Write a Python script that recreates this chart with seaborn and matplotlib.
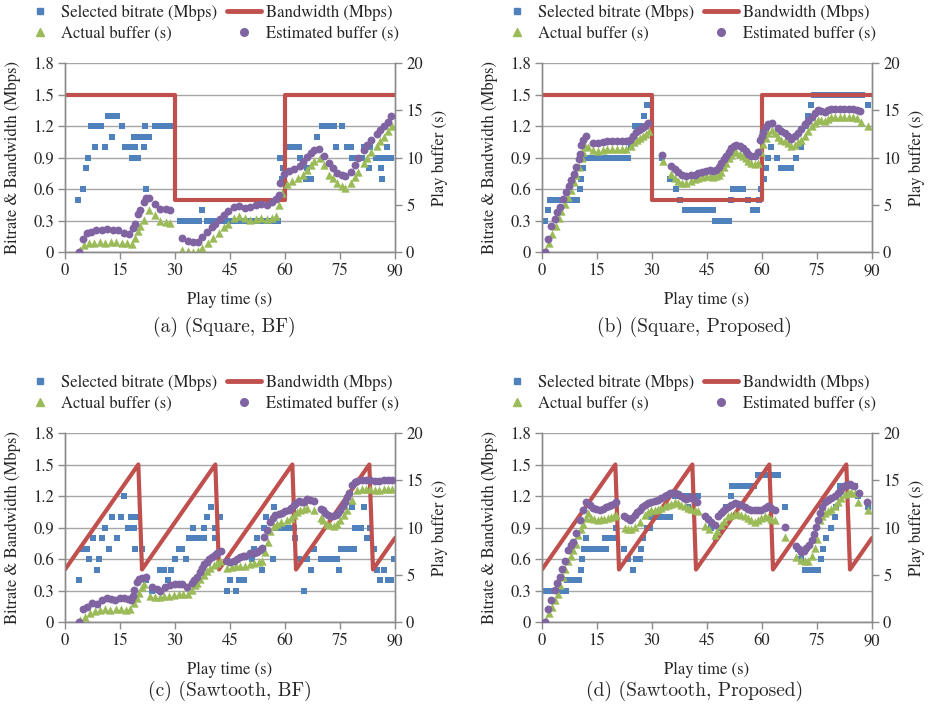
import matplotlib
matplotlib.use("Agg")
import matplotlib.pyplot as plt
from matplotlib.lines import Line2D
import seaborn as sns
import pandas as pd

# ---------------- data ----------------
x_ticks = [0, 15, 30, 45, 60, 75, 90]
left_ticks = [0, 0.3, 0.6, 0.9, 1.2, 1.5, 1.8]
left_tick_labels = ["0", "0.3", "0.6", "0.9", "1.2", "1.5", "1.8"]
right_ticks = [0, 5, 10, 15, 20]

labels = ["Selected bitrate (Mbps)", "Actual buffer (s)", "Bandwidth (Mbps)", "Estimated buffer (s)"]
captions = ["(a) (Square, BF)", "(b) (Square, Proposed)", "(c) (Sawtooth, BF)", "(d) (Sawtooth, Proposed)"]

square_bw_t = [0, 30, 30, 60, 60, 90]
square_bw_v = [1.5, 1.5, 0.5, 0.5, 1.5, 1.5]
saw_bw_t = [0, 20, 21, 41, 42, 62, 63, 83, 84, 90]
saw_bw_v = [0.5, 1.5, 0.5, 1.5, 0.5, 1.5, 0.5, 1.5, 0.5, 0.8]

# panel (a) Square, BF
a_rate_t = [3.6, 4.8, 5.7, 6.4, 7.0, 8.2, 8.4, 9.8, 10.9, 11.7, 12.9, 13.0, 14.3, 15.5, 16.4, 17.8, 18.2, 18.7,
            19.1, 19.8, 20.1, 21.5, 21.6, 21.9, 22.1, 22.8, 24.5, 25.9, 27.3, 28.7,
            31.4, 32.7, 34.0, 35.3, 36.6, 37.3, 38.6, 39.9, 41.2, 42.5, 43.8, 45.1, 46.4, 47.7, 49.0, 50.3, 51.6,
            52.9, 54.2, 55.5, 56.8, 58.1, 58.7, 59.2, 59.5,
            60.5, 61.7, 62.9, 63.8, 64.2, 65.6, 66.0, 67.0, 68.8, 70.0, 71.1, 72.2, 73.3, 74.0, 75.6, 76.8, 78.0,
            78.3, 79.6, 81.0, 81.5, 82.9, 83.3, 84.7, 85.9, 86.2, 86.5, 87.6, 87.9, 89.0]
a_rate_v = [0.5, 0.6, 0.8, 0.9, 1.2, 1.0, 1.2, 1.2, 1.0, 1.3, 1.1, 1.3, 1.3, 1.2, 1.0, 1.0, 0.9, 1.1,
            1.0, 0.9, 1.1, 1.1, 1.0, 1.2, 0.6, 1.1, 1.2, 1.2, 1.2, 1.2,
            0.3, 0.3, 0.3, 0.3, 0.3, 0.4, 0.3, 0.3, 0.3, 0.3, 0.3, 0.3, 0.3, 0.3, 0.3, 0.3, 0.3,
            0.3, 0.3, 0.3, 0.3, 0.3, 0.9, 0.7, 0.8,
            1.0, 1.0, 1.0, 1.0, 0.9, 0.7, 0.8, 0.7, 1.1, 1.2, 1.2, 1.2, 1.2, 1.0, 1.2, 1.0, 1.0,
            0.9, 0.9, 0.9, 1.0, 0.8, 1.0, 0.9, 0.9, 0.8, 0.7, 0.9, 1.0, 0.9]
a_est_t = [3.8, 4.8, 6.0, 7.0, 8.5, 10.0, 11.5, 13.0, 14.5, 16.0, 17.5, 18.5, 19.0, 20.0, 20.5, 21.5, 22.0, 23.0,
           24.6, 26.0, 27.5, 28.7,
           32.0, 33.5, 35.0, 36.4, 37.5, 38.7, 40.0, 41.0, 42.3, 43.5, 44.5, 46.0, 47.5, 49.0, 50.5, 52.0, 53.5,
           55.0, 56.5, 57.5, 58.3, 58.7, 59.7, 61.0, 62.4, 64.0, 65.0, 66.0, 67.0, 68.0, 69.2, 70.6, 72.0, 73.0,
           74.2, 75.5, 76.5, 78.0, 79.0, 80.0, 81.5, 82.5, 83.5, 85.0, 86.0, 87.0, 88.0, 89.0]
a_est_v = [0.0, 1.4, 2.0, 2.1, 2.3, 2.3, 2.4, 2.3, 2.3, 2.0, 1.9, 2.5, 3.0, 4.0, 4.4, 5.3, 5.7, 5.7,
           5.1, 4.6, 4.5, 4.4,
           1.5, 1.2, 1.1, 1.1, 1.6, 2.1, 2.6, 3.0, 3.5, 3.9, 4.3, 4.8, 4.9, 4.7, 4.8, 5.0, 5.1,
           5.0, 5.3, 5.6, 6.0, 7.3, 8.3, 8.6, 8.8, 9.1, 9.5, 10.1, 10.5, 10.8, 10.9, 10.2, 9.4, 8.9,
           8.4, 8.2, 8.0, 8.5, 9.2, 9.9, 10.8, 11.3, 11.8, 12.5, 12.9, 13.3, 13.8, 14.4]
a_act_t = [4.1, 5.2, 6.5, 8.0, 9.5, 11.0, 12.5, 14.0, 15.5, 17.0, 18.2, 19.2, 20.0, 20.5, 21.5, 22.8, 24.5, 26.0,
           27.5, 28.7,
           32.0, 33.5, 35.0, 36.4, 37.5, 39.0, 40.5, 42.0, 43.5, 44.5, 46.0, 47.5, 49.0, 50.5, 52.0, 53.5, 55.0,
           56.5, 57.5, 58.3, 59.2, 60.5, 62.0, 63.5, 65.0, 66.0, 67.0, 68.0, 69.5, 70.6, 72.0, 73.0, 74.2, 75.5,
           76.5, 78.0, 79.0, 80.0, 81.5, 82.5, 83.5, 85.0, 86.0, 87.0, 88.0, 89.3]
a_act_v = [0.2, 0.7, 0.9, 1.0, 1.1, 1.0, 1.1, 1.1, 1.0, 0.9, 0.8, 1.5, 2.2, 2.7, 3.4, 4.4, 3.9, 3.3,
           3.2, 3.1,
           0.25, 0.1, 0.05, 0.1, 0.4, 0.9, 1.5, 2.0, 2.6, 3.0, 3.6, 3.8, 3.6, 3.4, 3.5, 3.6, 3.5,
           3.6, 3.8, 5.0, 6.2, 7.2, 7.5, 7.8, 8.2, 8.7, 9.2, 9.6, 9.9, 9.2, 8.2, 7.8, 7.3, 7.0,
           6.8, 7.3, 7.9, 8.5, 9.4, 10.0, 10.6, 11.2, 11.7, 12.2, 12.8, 13.3]

# panel (b) Square, Proposed
b_rate_t = [0.7, 1.6, 2.2, 3.5, 4.8, 6.1, 7.4, 8.7, 9.6, 10.3, 10.6, 11.2, 11.7, 13.0, 14.3, 15.6, 16.9, 18.2,
            19.5, 20.8, 22.1, 23.4, 24.4, 25.3, 26.6, 27.8, 28.7,
            32.8, 35.0, 36.5, 37.7, 39.0, 40.3, 41.6, 42.9, 44.2, 45.5, 46.6, 47.2, 48.5, 49.8, 51.0, 51.6, 52.2,
            53.5, 54.8, 56.2, 57.5, 58.6, 59.3, 59.8, 60.5, 61.2, 61.6, 62.5, 64.2, 65.3, 66.6, 67.9, 69.4,
            70.7, 72.0, 72.5, 73.3, 74.2, 75.5, 76.8, 78.1, 79.4, 80.7, 82.0, 83.3, 84.6, 85.9, 87.2, 89.0]
b_rate_v = [0.3, 0.4, 0.5, 0.5, 0.5, 0.5, 0.5, 0.5, 0.5, 0.6, 0.7, 0.8, 0.9, 0.9, 0.9, 0.9, 0.9, 0.9,
            0.9, 0.9, 0.9, 0.9, 1.0, 1.2, 1.2, 1.3, 1.4,
            0.9, 0.7, 0.6, 0.5, 0.4, 0.4, 0.4, 0.4, 0.4, 0.4, 0.4, 0.3, 0.3, 0.3, 0.3, 0.5, 0.6,
            0.6, 0.6, 0.5, 0.4, 0.4, 0.5, 0.6, 0.7, 0.8, 0.9, 1.0, 0.9, 0.8, 0.8, 0.8, 0.9,
            1.0, 1.2, 1.3, 1.4, 1.5, 1.5, 1.5, 1.5, 1.5, 1.5, 1.5, 1.5, 1.5, 1.5, 1.5, 1.4]
b_est_t = [0.7, 1.6, 2.5, 3.5, 4.2, 4.8, 5.7, 6.6, 7.3, 8.0, 8.7, 9.4, 10.0, 10.3, 10.7, 11.3, 12.1, 13.9, 15.2,
           16.5, 17.8, 19.1, 20.4, 21.7, 23.0, 24.0, 24.8, 25.6, 26.5, 27.4, 28.2, 28.9,
           32.8, 35.1, 36.2, 37.2, 38.3, 39.4, 40.5, 41.6, 42.6, 43.5, 44.6, 45.7, 46.6, 47.5, 48.2, 48.9, 49.6,
           50.3, 51.0, 51.6, 52.3, 53.0, 53.9, 54.8, 55.5, 56.2, 57.1, 58.0, 58.9, 59.4, 59.9, 60.3, 61.0, 61.6,
           62.7, 64.4, 65.3, 66.2, 67.1, 68.0, 68.9, 69.8, 70.7, 71.6, 72.5, 73.5, 74.4, 75.3, 76.2, 77.1, 78.0,
           78.9, 80.0, 81.2, 82.4, 83.6, 84.8, 86.0, 86.6]
b_est_v = [0.0, 1.4, 2.7, 3.5, 4.2, 4.8, 5.6, 6.4, 7.0, 7.6, 8.3, 9.0, 9.8, 10.4, 11.3, 11.9, 12.3, 11.5, 11.5,
           11.6, 11.7, 11.7, 11.7, 11.7, 11.7, 11.9, 12.3, 12.7, 12.9, 13.1, 13.3, 13.6,
           10.3, 9.1, 8.8, 8.5, 8.2, 8.0, 8.1, 8.2, 8.4, 8.5, 8.6, 8.7, 8.6, 8.7, 9.0, 9.4, 9.8,
           10.2, 10.6, 11.0, 11.2, 11.3, 11.2, 11.0, 10.7, 10.4, 10.2, 10.2, 10.6, 11.9, 12.3, 12.7, 13.2, 13.5,
           13.7, 13.1, 12.8, 12.6, 12.3, 12.0, 12.3, 12.6, 13.0, 13.5, 13.9, 14.3, 14.7, 15.0, 14.9, 14.8, 15.0,
           15.1, 15.1, 15.1, 15.1, 15.1, 15.1, 15.0, 14.9]
b_act_t = [1.2, 2.0, 2.8, 3.7, 4.5, 5.3, 6.2, 7.0, 7.8, 8.6, 9.4, 10.2, 10.8, 11.3, 11.8, 12.5, 13.9, 15.2, 16.5,
           17.8, 19.1, 20.4, 21.7, 23.0, 24.2, 25.0, 25.8, 26.7, 27.6, 28.4, 29.2,
           33.0, 35.1, 36.2, 37.2, 38.3, 39.4, 40.5, 41.6, 42.6, 43.5, 44.6, 45.7, 46.6, 47.5, 48.2, 48.9, 49.6,
           50.3, 51.0, 51.6, 52.3, 53.0, 53.9, 54.8, 55.5, 56.2, 57.1, 58.0, 58.9, 59.8, 60.3, 61.0, 61.6, 62.7,
           63.5, 64.4, 65.3, 66.2, 67.1, 68.0, 68.9, 69.8, 70.7, 71.6, 72.5, 73.5, 74.4, 75.3, 76.2, 77.1, 78.0,
           78.9, 80.0, 81.2, 82.4, 83.6, 84.8, 86.0, 87.0, 89.0]
b_act_v = [0.2, 1.0, 1.9, 2.8, 3.6, 4.3, 5.1, 5.8, 6.6, 7.4, 8.2, 9.0, 9.9, 10.6, 11.2, 11.1, 10.8, 10.7, 10.8,
           10.9, 10.9, 10.9, 10.9, 10.9, 11.2, 11.6, 11.9, 12.1, 12.3, 12.5, 12.8,
           9.6, 8.3, 7.8, 7.5, 7.3, 7.3, 7.5, 7.7, 7.8, 7.9, 8.0, 8.0, 7.9, 8.0, 8.2, 8.5, 9.0,
           9.4, 9.9, 10.3, 10.6, 10.6, 10.4, 10.2, 9.9, 9.6, 9.4, 9.3, 9.4, 10.6, 11.4, 12.1, 12.6, 12.9,
           12.6, 12.2, 11.9, 11.7, 11.5, 11.2, 11.3, 11.6, 11.9, 12.3, 12.8, 13.3, 13.7, 14.0, 14.0, 13.9, 14.1,
           14.3, 14.3, 14.3, 14.3, 14.3, 14.3, 14.2, 13.8, 13.3]

# panel (c) Sawtooth, BF
c_rate_t = [3.9, 4.8, 5.9, 6.6, 7.6, 8.7, 9.4, 10.0, 10.9, 12.1, 12.9, 14.1, 15.3, 16.2, 17.3, 17.9, 18.7, 19.1,
            19.6, 21.0, 22.1, 23.7, 26.0, 27.0, 28.2, 29.0, 29.9, 31.0, 31.9, 33.0, 33.7, 34.8, 35.5, 36.5,
            37.8, 38.0, 38.7, 39.9, 40.8, 41.0, 42.4, 44.2, 44.9, 46.7, 47.4, 48.7, 51.0, 51.5, 52.4, 53.7,
            54.4, 54.9, 56.6, 56.9, 57.5, 58.7, 60.0, 61.2, 62.4, 62.8, 63.8, 65.1, 66.0, 67.0, 67.9, 69.7,
            70.8, 72.0, 73.1, 74.2, 74.7, 75.3, 76.4, 77.6, 78.3, 78.8, 79.2, 80.6, 81.5, 82.4, 83.3, 84.2,
            85.1, 86.0, 87.0, 88.0, 88.8, 89.7]
c_rate_v = [0.4, 0.7, 0.7, 0.6, 0.8, 0.5, 0.6, 0.8, 0.9, 0.7, 1.0, 0.8, 1.0, 1.2, 0.9, 1.0, 0.9, 0.7,
            1.0, 0.7, 0.4, 0.3, 0.5, 0.5, 0.4, 0.5, 0.6, 0.7, 0.7, 0.6, 0.8, 0.9, 0.8, 0.8,
            0.8, 0.9, 1.0, 1.1, 0.8, 0.9, 1.0, 0.3, 0.4, 0.3, 0.4, 0.4, 0.6, 0.7, 0.8, 0.5,
            0.9, 1.0, 0.6, 1.1, 0.9, 0.9, 0.9, 0.9, 0.9, 0.8, 0.6, 0.3, 0.6, 0.5, 0.7, 0.6,
            0.6, 0.6, 0.6, 0.6, 0.5, 0.7, 0.7, 0.7, 1.1, 0.7, 0.9, 0.9, 1.1, 0.8, 0.9, 0.7,
            0.5, 0.4, 0.5, 0.4, 0.4, 0.6]
c_est_t = [3.9, 4.8, 5.9, 7.3, 8.7, 10.0, 11.4, 12.5, 13.5, 15.0, 16.2, 17.2, 17.9, 18.5, 18.9, 19.6, 20.3, 21.0,
           22.1,
           23.7, 25.0, 26.0, 27.3, 28.7, 30.0, 31.0, 31.9, 33.2, 34.6, 35.3, 36.0, 36.7, 37.3, 38.0, 38.7, 39.4,
           40.1, 40.8, 41.4, 42.5,
           44.2, 45.1, 46.0, 46.9, 47.8, 48.5, 49.2, 50.5, 51.5, 52.4, 53.1, 53.7, 54.4, 55.1, 56.0, 56.7, 57.4,
           58.3, 59.2, 60.1, 61.0, 61.7, 62.4, 63.1, 63.8, 64.5, 65.1, 66.0, 66.9, 67.9,
           69.7, 70.4, 71.0, 71.7, 72.4, 73.1, 73.8, 74.5, 75.1, 75.8, 76.5, 77.0, 77.4, 78.3, 79.0, 79.7, 80.9,
           82.1, 83.3, 84.5, 85.7, 86.9, 88.1, 89.3]
c_est_v = [0.0, 1.4, 1.6, 2.0, 1.9, 2.3, 2.5, 2.4, 2.3, 2.5, 2.5, 2.4, 2.3, 2.8, 3.4, 4.2, 4.6, 4.7,
           4.8,
           3.7, 3.5, 3.3, 3.7, 3.9, 4.0, 4.0, 4.0, 3.7, 4.1, 4.4, 4.8, 5.3, 5.7, 6.1, 6.4, 6.7,
           6.9, 7.1, 7.3, 7.5,
           6.5, 6.4, 6.5, 6.7, 6.9, 7.0, 7.0, 7.3, 7.3, 7.4, 7.6, 7.8, 9.0, 9.7, 10.6, 11.0, 11.3,
           11.4, 11.5, 11.7, 11.9, 12.1, 12.4, 12.6, 12.8, 12.7, 12.7, 13.0, 12.9, 12.8,
           12.0, 11.8, 11.5, 11.3, 11.2, 11.2, 11.3, 11.5, 11.9, 12.3, 12.7, 13.2, 13.6, 14.5, 14.8, 14.9, 15.0,
           15.0, 15.0, 14.9, 14.9, 15.0, 15.0, 15.0]
c_act_t = [4.2, 5.4, 6.8, 8.2, 9.6, 11.0, 12.4, 13.8, 15.2, 16.6, 17.8, 18.8, 19.5, 20.2, 20.9, 21.5,
           23.2, 24.5, 25.8, 27.1, 28.4, 29.7, 31.0, 32.3, 33.6, 34.6, 35.5, 36.0, 36.9, 37.8, 38.6, 39.6, 40.6,
           41.4, 42.3,
           44.2, 45.5, 46.6, 47.8, 49.2, 50.5, 51.5, 52.9, 53.7, 54.6, 55.4, 56.0, 57.0, 57.8, 59.0, 60.5, 61.6,
           62.4, 63.4, 64.2, 65.1, 66.0, 67.9,
           69.7, 70.4, 71.5, 72.4, 73.3, 74.2, 75.1, 76.0, 76.9, 78.3, 79.7, 80.9, 82.1, 83.3, 84.5, 85.7, 86.9,
           88.1, 89.3]
c_act_v = [0.2, 0.5, 1.0, 1.2, 1.3, 1.4, 1.3, 1.4, 1.4, 1.3, 1.4, 2.0, 2.5, 3.1, 3.7, 4.0,
           2.8, 2.6, 2.6, 2.8, 2.8, 2.9, 3.0, 3.0, 3.0, 3.4, 3.9, 4.1, 4.6, 5.0, 5.4, 5.7, 6.0,
           6.2, 6.5,
           5.7, 5.8, 5.9, 5.9, 5.9, 6.1, 6.2, 6.4, 6.5, 7.4, 8.5, 9.6, 10.2, 10.4, 10.6, 10.8, 11.0,
           11.3, 11.6, 11.9, 12.0, 12.1, 11.9,
           11.0, 10.8, 10.4, 10.3, 10.2, 10.4, 10.8, 11.3, 11.9, 12.9, 14.0, 14.1, 14.1, 14.1, 14.0, 14.0, 14.1,
           14.1, 14.1]

# panel (d) Sawtooth, Proposed
d_rate_t = [0.2, 1.2, 2.2, 3.3, 4.4, 5.5, 6.6, 6.8, 7.9, 9.0, 10.1, 10.5, 10.9, 11.5, 11.9, 13.0, 14.1, 15.2,
            16.4, 17.5, 17.1, 18.3, 19.5, 20.1, 22.4, 23.5, 24.8, 25.6, 26.6, 27.1, 27.5, 28.5, 29.4, 29.8,
            31.0, 32.2, 33.4, 33.9, 34.8, 36.2, 37.4, 38.6, 39.8, 40.2, 41.4, 42.5, 44.8, 46.2, 47.5, 48.9,
            50.3, 51.6, 51.8, 53.0, 54.2, 55.4, 56.6, 57.8, 58.9, 60.0, 61.1, 62.2, 63.3, 64.4, 66.2, 69.8,
            70.7, 71.6, 72.8, 74.0, 75.2, 76.2, 76.6, 77.5, 78.9, 79.8, 80.3, 81.2, 82.3, 83.4, 84.5, 85.3,
            86.2, 88.9]
d_rate_v = [0.3, 0.3, 0.3, 0.3, 0.3, 0.3, 0.3, 0.4, 0.4, 0.4, 0.4, 0.5, 0.6, 0.7, 0.8, 0.7, 0.7, 0.7,
            0.7, 0.7, 0.8, 0.8, 0.8, 0.9, 0.7, 0.6, 0.5, 0.6, 0.6, 0.7, 0.8, 0.9, 0.9, 1.0,
            1.0, 1.0, 1.0, 1.1, 1.0, 1.2, 1.2, 1.2, 1.1, 1.2, 1.2, 1.2, 1.0, 0.9, 0.8, 0.9,
            1.1, 1.2, 1.3, 1.3, 1.3, 1.3, 1.3, 1.3, 1.4, 1.4, 1.4, 1.4, 1.4, 1.4, 1.1, 0.7,
            0.6, 0.5, 0.5, 0.5, 0.5, 0.6, 0.7, 0.8, 0.9, 1.0, 1.1, 1.3, 1.3, 1.3, 1.3, 1.3,
            1.2, 1.1]
d_est_t = [0.9, 1.6, 2.5, 3.5, 4.2, 4.8, 5.5, 6.2, 7.1, 7.8, 8.5, 9.4, 10.3, 11.2, 12.1, 13.0, 13.9, 14.8, 15.7,
           16.6, 17.5, 18.2, 18.9, 19.6, 20.3,
           22.4, 23.2, 23.9, 24.6, 25.3, 26.0, 26.6, 27.3, 28.0, 28.9, 29.8, 30.7, 31.6, 32.5, 33.5, 34.2, 34.8,
           35.5, 36.2, 37.1, 38.0, 38.7, 39.4, 40.0, 40.7, 41.5, 42.3,
           44.5, 45.4, 46.2, 47.1, 48.0, 48.7, 49.4, 50.0, 50.7, 51.6, 52.5, 53.4, 54.4, 55.3, 56.2, 57.1, 58.0,
           58.9, 59.8, 60.7, 61.6, 62.5, 63.5, 66.2,
           69.4, 70.0, 70.7, 71.4, 72.1, 72.8, 73.5, 74.1, 74.8, 75.3, 75.7, 76.4, 77.1, 78.0, 78.9, 79.8, 80.7,
           81.4, 82.1, 83.0, 83.9, 85.1, 86.4, 88.7]
d_est_v = [0.0, 1.4, 2.3, 3.4, 4.1, 4.8, 5.6, 6.5, 7.6, 8.1, 8.5, 9.4, 10.8, 11.9, 12.7, 12.4, 12.1, 12.0, 11.9,
           12.0, 12.2, 12.3, 12.4, 12.5, 12.7,
           11.2, 11.0, 10.8, 11.0, 11.3, 11.6, 11.9, 12.2, 12.4, 12.6, 12.7, 12.8, 12.9, 13.1, 13.3, 13.4, 13.6,
           13.6, 13.6, 13.5, 13.3, 13.1, 13.0, 13.1, 13.2, 13.0, 12.7,
           11.2, 10.9, 10.6, 10.3, 11.2, 11.5, 11.7, 12.0, 12.2, 12.4, 12.6, 12.5, 12.4, 12.2, 12.0, 11.9, 11.8,
           11.8, 11.9, 12.1, 12.3, 12.1, 11.9, 10.1,
           8.0, 7.7, 7.4, 7.5, 7.8, 8.2, 8.7, 9.3, 10.1, 10.8, 11.5, 12.2, 12.7, 12.9, 13.1, 13.3, 13.6,
           13.9, 14.3, 14.5, 14.6, 14.4, 13.7, 12.7]
d_act_t = [1.2, 2.0, 2.7, 3.5, 4.3, 5.0, 5.7, 6.4, 7.1, 7.8, 8.5, 9.2, 9.8, 10.5, 11.2, 11.9, 12.5, 13.4, 14.3,
           15.2, 16.1, 17.0, 17.9, 18.8, 19.7, 20.3,
           22.6, 23.5, 24.4, 25.3, 26.6, 28.0, 28.9, 29.8, 30.7, 31.6, 32.5, 33.5, 34.4, 35.1, 36.2, 37.1, 38.0,
           38.9, 39.8, 40.7, 41.6, 42.5,
           44.5, 45.6, 47.1, 47.8, 48.9, 49.6, 50.7, 51.6, 52.5, 53.4, 54.4, 55.3, 56.2, 57.1, 58.0, 58.9, 59.8,
           60.7, 61.6, 62.5, 63.5, 66.4,
           69.4, 70.7, 71.6, 72.6, 73.5, 74.4, 75.0, 75.7, 76.4, 77.1, 78.0, 78.9, 79.8, 80.7, 81.6, 82.5, 83.4,
           84.3, 85.3, 86.2, 88.9]
d_act_v = [0.2, 0.9, 1.6, 2.3, 3.0, 3.9, 4.8, 5.6, 6.5, 7.0, 7.6, 8.3, 9.2, 9.8, 10.4, 11.0, 11.5, 11.0, 10.9,
           10.8, 10.9, 10.9, 11.0, 11.1, 11.2, 11.3,
           9.9, 9.8, 9.8, 10.1, 10.6, 11.3, 11.6, 11.9, 11.9, 12.0, 12.1, 12.3, 12.4, 12.5, 12.7, 12.6, 12.4,
           12.3, 12.1, 12.0, 11.8, 11.7,
           10.2, 9.8, 9.2, 9.6, 10.3, 10.7, 11.2, 11.3, 11.4, 11.4, 11.3, 11.2, 11.0, 10.8, 10.6, 10.8, 11.0,
           11.2, 11.1, 10.9, 10.8, 9.0,
           6.9, 6.6, 6.5, 6.5, 7.0, 7.8, 8.8, 10.8, 11.2, 11.5, 11.7, 12.0, 12.3, 12.7, 13.1, 13.5, 13.7,
           13.8, 13.6, 12.7, 11.9]

panels = [
    (a_rate_t, a_rate_v, square_bw_t, square_bw_v, a_act_t, a_act_v, a_est_t, a_est_v),
    (b_rate_t, b_rate_v, square_bw_t, square_bw_v, b_act_t, b_act_v, b_est_t, b_est_v),
    (c_rate_t, c_rate_v, saw_bw_t, saw_bw_v, c_act_t, c_act_v, c_est_t, c_est_v),
    (d_rate_t, d_rate_v, saw_bw_t, saw_bw_v, d_act_t, d_act_v, d_est_t, d_est_v),
]

# ---------------- style ----------------
sns.set_theme(style="white")
plt.rcParams["font.family"] = ["TeX Gyre Termes", "Liberation Serif", "DejaVu Serif"]
plt.rcParams["axes.unicode_minus"] = False

C_RATE = "#4F81BD"
C_BW = "#C0504D"
C_ACT = "#9BBB59"
C_EST = "#8064A2"
C_SPINE = "#8c8c8c"
C_GRID = "#a6a6a6"

W, H = 932, 712
fig = plt.figure(figsize=(W / 100, H / 100), dpi=100)

ax_px = [(65, 63), (542, 63), (65, 433), (542, 433)]  # left, top in px
ax_w, ax_h = 330, 189
cap_px = [(224, 327), (694, 327), (230, 691), (695, 691)]
leg_px = [(23, 5), (500, 5), (23, 375), (500, 375)]

FS = 12

for i, (rt, rv, bt, bv, at, av, et, ev) in enumerate(panels):
    lx, ty = ax_px[i]
    ax = fig.add_axes([lx / W, 1 - (ty + ax_h) / H, ax_w / W, ax_h / H])
    ax2 = ax.twinx()

    ax.set_axisbelow(True)
    ax.yaxis.grid(True, color=C_GRID, linewidth=1.0)
    ax.xaxis.grid(False)

    sns.lineplot(x=bt, y=bv, ax=ax, color=C_BW, linewidth=3.0, sort=False, estimator=None, zorder=3)
    sns.scatterplot(x=rt, y=rv, ax=ax, marker="s", color=C_RATE, s=24, linewidth=0, zorder=2)

    sns.scatterplot(x=at, y=av, ax=ax2, marker="^", color=C_ACT, s=36, linewidth=0, zorder=2)
    sns.scatterplot(x=et, y=ev, ax=ax2, marker="o", color=C_EST, s=32, linewidth=0, zorder=3)

    ax.set_xlim(0, 90)
    ax.set_ylim(0, 1.8)
    ax2.set_ylim(0, 20)
    ax.set_xticks(x_ticks)
    ax.set_xticklabels([str(v) for v in x_ticks])
    ax.set_yticks(left_ticks)
    ax.set_yticklabels(left_tick_labels)
    ax2.set_yticks(right_ticks)
    ax2.set_yticklabels([str(v) for v in right_ticks])

    for a in (ax, ax2):
        for s in a.spines.values():
            s.set_color(C_SPINE)
            s.set_linewidth(1.0)
        a.spines["top"].set_visible(False)
        a.tick_params(direction="out", length=5, width=1, color=C_SPINE, labelsize=FS, pad=3)
    ax.tick_params(axis="x", bottom=True)
    ax.tick_params(axis="y", left=True)
    ax2.tick_params(axis="y", right=True)

    ax.set_xlabel("Play time (s)", fontsize=FS)
    ax.set_ylabel("Bitrate & Bandwidth (Mbps)", fontsize=FS)
    ax2.set_ylabel("Play buffer (s)", fontsize=FS)
    ax.xaxis.set_label_coords(0.5, -0.21)
    ax.yaxis.set_label_coords(-0.133, 0.5)
    ax2.yaxis.set_label_coords(1.112, 0.5)

    handles = [
        Line2D([], [], marker="s", color=C_RATE, linestyle="none", markersize=5),
        Line2D([], [], marker="^", color=C_ACT, linestyle="none", markersize=6),
        Line2D([], [], color=C_BW, linewidth=3.5),
        Line2D([], [], marker="o", color=C_EST, linestyle="none", markersize=5.5),
    ]
    px, py = leg_px[i]
    fig.legend(handles, labels, loc="upper left", bbox_to_anchor=(px / W, 1 - py / H),
               ncol=2, frameon=False, fontsize=FS, handlelength=2.0, handletextpad=0.3,
               columnspacing=0.6, labelspacing=0.3, borderpad=0, borderaxespad=0)

    cx, cy = cap_px[i]
    fig.text(cx / W, 1 - cy / H, captions[i], ha="center", va="center",
             fontsize=14, family="cmr10")

fig.savefig("out.png", dpi=100)
